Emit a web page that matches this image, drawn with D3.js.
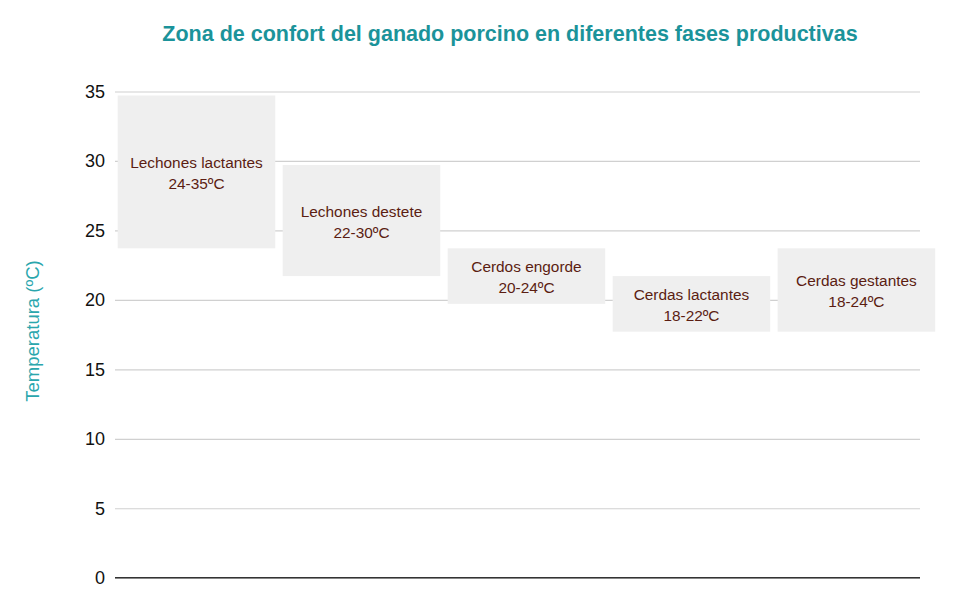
<!DOCTYPE html>
<html>
<head>
<meta charset="utf-8">
<script src="https://cdn.jsdelivr.net/npm/d3@7"></script>
<style>
  body { margin: 0; background: #fff; }
  text { font-family: "Liberation Sans", Arial, sans-serif; }
</style>
</head>
<body>
<div id="chart"></div>
<script>
const fases = ["Lechones lactantes", "Lechones destete", "Cerdos engorde", "Cerdas lactantes", "Cerdas gestantes"]
const minTemp = [24, 22, 20, 18, 18]
const maxTemp = [35, 30, 24, 22, 24]
const yTicks = [0, 5, 10, 15, 20, 25, 30, 35]

const W = 980, H = 600
const LEFT = 115, GRID_END = 920

const svg = d3.select("#chart").append("svg")
    .attr("width", W)
    .attr("height", H)

const y = d3.scaleLinear()
    .domain([0, 35])
    .range([577.7, 91.5])

const x = d3.scaleBand()
    .domain(fases)
    .range([117.7, 935.2])
    .paddingInner(0.045)
    .paddingOuter(0)

// title
svg.append("text")
    .attr("x", 510)
    .attr("y", 41)
    .attr("text-anchor", "middle")
    .attr("font-size", 21.5)
    .attr("font-weight", "bold")
    .attr("fill", "#1b939a")
    .text("Zona de confort del ganado porcino en diferentes fases productivas")

// y label
svg.append("text")
    .attr("transform", "translate(39, 331) rotate(-90)")
    .attr("text-anchor", "middle")
    .attr("font-size", 18.5)
    .attr("fill", "#2aa6ad")
    .text("Temperatura (ºC)")

// gridlines + tick labels (behind the bars)
const yAxis = svg.append("g")
    .attr("transform", `translate(${LEFT}, 0)`)
    .call(d3.axisLeft(y).tickValues(yTicks).tickSize(-(GRID_END - LEFT)).tickPadding(10))

yAxis.select(".domain").remove()
yAxis.selectAll(".tick line")
    .attr("stroke", "#d0d0d0")
    .attr("stroke-width", 1.2)
yAxis.selectAll(".tick text")
    .attr("font-size", 18)
    .attr("fill", "#111")
    .attr("font-family", "'Liberation Sans', Arial, sans-serif")

const data = fases.map((f, i) => ({ fase: f, lo: minTemp[i], hi: maxTemp[i] }))

const bars = svg.append("g")
    .attr("transform", "translate(0, 4)")

bars.selectAll("rect")
    .data(data)
  .enter().append("rect")
    .attr("x", d => x(d.fase))
    .attr("y", d => y(d.hi))
    .attr("width", x.bandwidth())
    .attr("height", d => y(d.lo) - y(d.hi))
    .attr("fill", "#efefef")

// zero baseline on top
svg.append("line")
    .attr("x1", LEFT)
    .attr("x2", GRID_END)
    .attr("y1", y(0))
    .attr("y2", y(0))
    .attr("stroke", "#333")
    .attr("stroke-width", 1.6)

const labels = bars.selectAll("text.lbl")
    .data(data)
  .enter().append("text")
    .attr("class", "lbl")
    .attr("text-anchor", "middle")
    .attr("font-size", 15.4)
    .attr("fill", "#5b1d12")
    .attr("transform", d => `translate(${x(d.fase) + x.bandwidth() / 2}, ${(y(d.lo) + y(d.hi)) / 2 - 4})`)

labels.append("tspan")
    .attr("x", 0)
    .attr("dy", 0)
    .text(d => d.fase)
labels.append("tspan")
    .attr("x", 0)
    .attr("dy", 21)
    .text(d => `${d.lo}-${d.hi}ºC`)
</script>
</body>
</html>
